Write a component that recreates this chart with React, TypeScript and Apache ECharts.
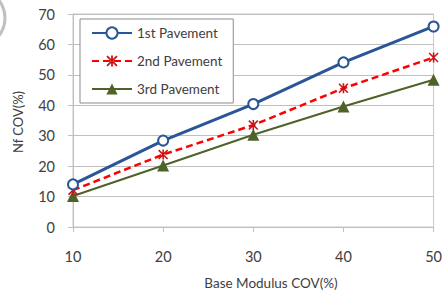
import React, { useEffect, useRef } from "react";
import * as echarts from "echarts";

const xValues = [10, 20, 30, 40, 50];
const pavement1 = [14, 28.4, 40.4, 54.1, 65.9];
const pavement2 = [12.1, 23.8, 33.5, 45.6, 55.7];
const pavement3 = [10.2, 20.2, 30.3, 39.6, 48.4];
const seriesNames = ["1st Pavement", "2nd Pavement", "3rd Pavement"];
const xAxisTitle = "Base Modulus COV(%)";
const yAxisTitle = "Nf COV(%)";

const asterisk =
  "path://M4.2,0 L5.8,0 L5.8,10 L4.2,10 Z M0,1.1 L1.1,0 L10,8.9 L8.9,10 Z M8.9,0 L10,1.1 L1.1,10 L0,8.9 Z";

const FONT = "Lato, 'Open Sans', sans-serif";

export default function App() {
  const ref = useRef<HTMLDivElement>(null);
  useEffect(() => {
    document.body.style.margin = "0";
    const chart = echarts.init(ref.current!, undefined, { renderer: "svg" });
    const pair = (arr: number[]) => xValues.map((x, i) => [x, arr[i]]);
    chart.setOption({
      animation: false,
      backgroundColor: "#ffffff",
      textStyle: { fontFamily: FONT },
      grid: {
        left: 73,
        right: 5,
        top: 14,
        bottom: 65,
        show: true,
        borderColor: "#c8c8c8",
        borderWidth: 1,
      },
      xAxis: {
        type: "value",
        min: 10,
        max: 50,
        interval: 10,
        axisLine: { show: true, lineStyle: { color: "#bfbfbf" } },
        axisTick: { show: true, length: 5, inside: false, lineStyle: { color: "#bfbfbf" } },
        axisLabel: { color: "#404040", fontSize: 14.5, margin: 22, fontFamily: FONT },
        splitLine: { show: false },
      },
      yAxis: {
        type: "value",
        min: 0,
        max: 70,
        interval: 10,
        axisLine: { show: true, lineStyle: { color: "#bfbfbf" } },
        axisTick: { show: true, length: 5, lineStyle: { color: "#bfbfbf" } },
        axisLabel: { color: "#404040", fontSize: 14.5, margin: 18, fontFamily: FONT },
        splitLine: { show: true, lineStyle: { color: "#bfbfbf", width: 1 } },
      },
      legend: {
        orient: "vertical",
        left: 80,
        top: 19,
        backgroundColor: "#ffffff",
        borderColor: "#8c8c8c",
        borderWidth: 1,
        padding: [7, 11, 7, 11],
        itemWidth: 40,
        itemHeight: 14,
        itemGap: 14,
        textStyle: { color: "#404040", fontSize: 13.5, fontFamily: FONT },
        data: seriesNames,
      },
      graphic: [
        {
          type: "circle",
          shape: { cx: -24, cy: 18, r: 29 },
          style: { fill: "#ffffff", stroke: "#c0c0c0", lineWidth: 3 },
        },
        {
          type: "text",
          x: 271,
          y: 283,
          style: {
            text: xAxisTitle,
            fill: "#404040",
            font: `13.5px ${FONT}`,
            align: "center",
            verticalAlign: "middle",
          },
        },
        {
          type: "text",
          x: 17.5,
          y: 122,
          rotation: Math.PI / 2,
          style: {
            text: yAxisTitle,
            fill: "#404040",
            font: `13px ${FONT}`,
            align: "center",
            verticalAlign: "middle",
          },
        },
      ],
      series: [
        {
          name: seriesNames[0],
          type: "line",
          data: pair(pavement1),
          symbol: "circle",
          symbolSize: 10,
          lineStyle: { color: "#2a5597", width: 3 },
          itemStyle: { color: "#ffffff", borderColor: "#2a5597", borderWidth: 2 },
          z: 4,
        },
        {
          name: seriesNames[1],
          type: "line",
          data: pair(pavement2),
          symbol: asterisk,
          symbolSize: 10,
          lineStyle: { color: "#ff0000", width: 2.5, type: [7, 4] },
          itemStyle: { color: "#c81414" },
          z: 3,
        },
        {
          name: seriesNames[2],
          type: "line",
          data: pair(pavement3),
          symbol: "triangle",
          symbolSize: 12,
          lineStyle: { color: "#4f6228", width: 2 },
          itemStyle: { color: "#4f6228" },
          z: 2,
        },
      ],
    });
    return () => chart.dispose();
  }, []);
  return (
    <div
      ref={ref}
      style={{ position: "absolute", left: 0, top: 0, width: 445, height: 292 }}
    />
  );
}
